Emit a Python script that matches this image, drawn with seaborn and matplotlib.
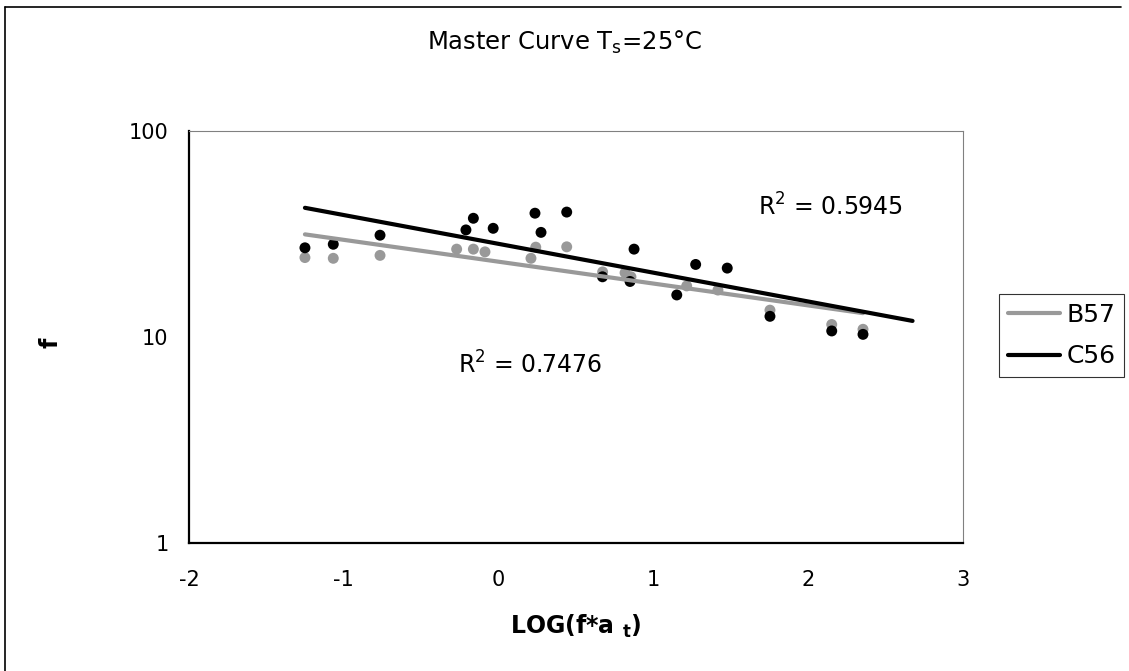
import numpy as np
import pandas as pd
import matplotlib
matplotlib.use("Agg")
import matplotlib.pyplot as plt
from matplotlib.lines import Line2D
from matplotlib.ticker import NullLocator, FixedLocator, FixedFormatter
import seaborn as sns

# ---------------- data ----------------
series_names = ["B57", "C56"]

b57_x = [-1.251, -1.068, -0.766, -0.271, -0.163, -0.088, 0.209, 0.240, 0.440,
         0.672, 0.817, 0.855, 1.215, 1.417, 1.753, 2.152, 2.354]
b57_y = [24.3, 24.1, 24.9, 26.7, 26.7, 25.9, 24.1, 27.3, 27.4,
         20.7, 20.5, 19.6, 17.7, 16.9, 13.5, 11.5, 10.9]

c56_x = [-1.251, -1.068, -0.766, -0.211, -0.163, -0.035, 0.235, 0.274, 0.440,
         0.671, 0.849, 0.875, 1.151, 1.273, 1.477, 1.753, 2.152, 2.354]
c56_y = [27.1, 28.2, 31.2, 33.1, 37.7, 33.7, 39.9, 32.2, 40.4,
         19.6, 18.6, 26.7, 16.0, 22.5, 21.6, 12.6, 10.7, 10.3]

r2_labels = ["0.7476", "0.5945"]
x_ticks = [-2, -1, 0, 1, 2, 3]
y_ticks = [1, 10, 100]
y_tick_labels = ["1", "10", "100"]

title_text = r"Master Curve T$_\mathregular{s}$=25°C"
xlabel_text = r"LOG(f*a $_\mathbf{t}$)"
ylabel_text = "f"

# ---------------- style ----------------
sns.set_style("white")
plt.rcParams["font.family"] = ["DejaVu Sans"]
plt.rcParams["axes.unicode_minus"] = False
plt.rcParams["text.color"] = "black"
plt.rcParams["axes.labelcolor"] = "black"
plt.rcParams["xtick.color"] = "black"
plt.rcParams["ytick.color"] = "black"

GRAY = "#999999"
BLACK = "#000000"
AXGRAY = "#808080"

W, H = 1129, 671
fig = plt.figure(figsize=(W / 100, H / 100), dpi=100)
fig.patch.set_facecolor("white")

L, R, T, B = 189, 963, 131, 543
ax = fig.add_axes([L / W, 1 - B / H, (R - L) / W, (B - T) / H])
ax.set_facecolor("white")

df = pd.concat([
    pd.DataFrame({"x": b57_x, "y": b57_y, "series": series_names[0]}),
    pd.DataFrame({"x": c56_x, "y": c56_y, "series": series_names[1]}),
], ignore_index=True)

palette = {series_names[0]: GRAY, series_names[1]: BLACK}

sns.scatterplot(data=df, x="x", y="y", hue="series", palette=palette,
                s=62, edgecolor="none", linewidth=0, ax=ax, legend=False,
                zorder=3)

# exponential trend lines (log-linear fit), C56 with 0.3 forward forecast
forecast = {series_names[0]: 0.0, series_names[1]: 0.32}
for name in series_names:
    sub = df[df["series"] == name]
    k, c = np.polyfit(sub["x"], np.log10(sub["y"]), 1)
    xs = np.linspace(sub["x"].min(), sub["x"].max() + forecast[name], 50)
    fit = pd.DataFrame({"x": xs, "y": 10 ** (k * xs + c)})
    sns.lineplot(data=fit, x="x", y="y", color=palette[name], linewidth=3.0,
                 ax=ax, label=name, zorder=4, solid_capstyle="round")

ax.set_yscale("log")
ax.set_xlim(-2, 3)
ax.set_ylim(1, 100)
ax.xaxis.set_major_locator(FixedLocator(x_ticks))
ax.yaxis.set_major_locator(FixedLocator(y_ticks))
ax.yaxis.set_major_formatter(FixedFormatter(y_tick_labels))
ax.yaxis.set_minor_locator(NullLocator())
ax.set_xlabel("")
ax.set_ylabel("")
ax.grid(False)

for side in ["left", "bottom"]:
    ax.spines[side].set_color(BLACK)
    ax.spines[side].set_linewidth(1.6)
for side in ["top", "right"]:
    ax.spines[side].set_color(AXGRAY)
    ax.spines[side].set_linewidth(0.8)

ax.tick_params(axis="both", which="major", direction="inout", length=7.5,
               width=0.8, color=AXGRAY, labelsize=15, labelcolor="black")
ax.tick_params(axis="x", pad=16)
ax.tick_params(axis="y", pad=11)

# R^2 annotations
ax.text((458 - L) / (R - L), (B - 365) / (B - T), r"R$^2$ = " + r2_labels[0],
        transform=ax.transAxes, fontsize=17, ha="left", va="center",
        color="black")
ax.text((758 - L) / (R - L), (B - 207) / (B - T), r"R$^2$ = " + r2_labels[1],
        transform=ax.transAxes, fontsize=17, ha="left", va="center",
        color="black")

# legend
leg = ax.legend(loc="upper left", bbox_to_anchor=(999 / W, 1 - 294 / H),
                bbox_transform=fig.transFigure, borderaxespad=0,
                frameon=True, fancybox=False, fontsize=18,
                handlelength=2.1, handletextpad=0.25, labelspacing=0.7,
                borderpad=0.35)
leg.get_frame().set_edgecolor(BLACK)
leg.get_frame().set_linewidth(0.8)
for line in leg.get_lines():
    line.set_linewidth(3.0)
for t in leg.get_texts():
    t.set_color("black")

# title and axis labels
fig.text(565 / W, 1 - 42 / H, title_text, fontsize=17.5, ha="center",
         va="center", color="black")
fig.text(576 / W, 1 - 626 / H, xlabel_text, fontsize=17, fontweight="bold",
         ha="center", va="center", color="black")
fig.text(51 / W, 1 - 343 / H, ylabel_text, fontsize=17, fontweight="bold",
         rotation=90, ha="center", va="center", color="black")

# chart-area border (left and top visible)
fig.add_artist(Line2D([5 / W, 5 / W], [0, 1 - 7 / H], transform=fig.transFigure,
                      color=BLACK, linewidth=1.2))
fig.add_artist(Line2D([5 / W, 1121 / W], [1 - 7 / H, 1 - 7 / H],
                      transform=fig.transFigure, color=BLACK, linewidth=1.2))

fig.savefig("out.png", dpi=100, facecolor="white")
